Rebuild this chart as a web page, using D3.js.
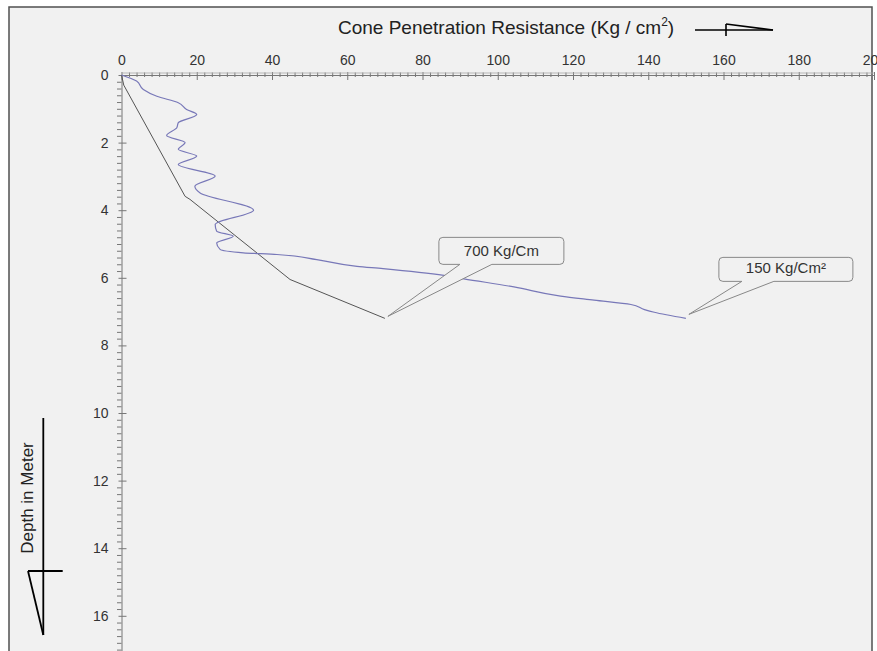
<!DOCTYPE html>
<html>
<head>
<meta charset="utf-8">
<script src="https://cdn.jsdelivr.net/npm/d3@7"></script>
<style>
  html, body { margin: 0; padding: 0; background: #ffffff; }
  svg { display: block; font-family: "Liberation Sans", Arial, sans-serif; }
</style>
</head>
<body>
<svg id="chart" width="877" height="651"></svg>
<script>
// ---------- data ----------
const xTickValues = [0, 20, 40, 60, 80, 100, 120, 140, 160, 180, 200];
const yTickValues = [0, 2, 4, 6, 8, 10, 12, 14, 16];

// measured cone resistance curve (blue)
const coneResistance = [0, 4.0, 5.8, 9.4, 15.1, 17.3, 20.0, 15.1, 14.7, 12.0, 16.9, 15.1, 20.0, 15.1, 24.9, 19.5, 20.9, 35.1, 24.9, 25.3, 29.7, 25.3, 26.2, 32.4, 41.3, 51.9, 62.6, 69.5, 85.7, 91.0, 104.3, 116.7, 125.6, 135.4, 139.0, 141.6, 150];
const coneDepth      = [0, 0.18, 0.43, 0.63, 0.82, 1.02, 1.17, 1.41, 1.56, 1.79, 2.0, 2.2, 2.4, 2.65, 2.99, 3.29, 3.49, 4.0, 4.42, 4.62, 4.77, 4.97, 5.16, 5.26, 5.31, 5.46, 5.66, 5.73, 5.93, 6.03, 6.27, 6.54, 6.66, 6.79, 6.94, 7.02, 7.2];

// second curve (dark grey)
const frictionValue = [0, 0.6, 16.9, 18.2, 44.8, 70];
const frictionDepth = [0, 0.3, 3.59, 3.68, 6.05, 7.2];

const calloutLabels = ["700 Kg/Cm", "150 Kg/Cm\u00B2"];
const calloutValues = [70, 150];
const calloutDepths = [7.2, 7.2];

// ---------- drawing ----------
const svg = d3.select("#chart");
const BG = "#f1f1f1";

svg.append("rect").attr("x", 9).attr("y", 7).attr("width", 863).attr("height", 700)
  .attr("fill", BG).attr("stroke", "#505050").attr("stroke-width", 1.5);

const x = d3.scaleLinear().domain([0, 200]).range([121.5, 874]);
const y = d3.scaleLinear().domain([0, 17.5]).range([75, 75 + 17.5 * 33.8]);

// Top axis (minor)
const xMinor = d3.range(0, 201, 2).filter(v => !xTickValues.includes(v));
const gxMinor = svg.append("g").attr("transform", `translate(0,${y(0)})`)
  .call(d3.axisTop(x).tickValues(xMinor).tickSize(0).tickFormat(""));
gxMinor.select(".domain").remove();
gxMinor.selectAll(".tick line").attr("y1", -2.5).attr("y2", 2).attr("stroke", "#777");

const gx = svg.append("g").attr("transform", `translate(0,${y(0)})`)
  .call(d3.axisTop(x).tickValues(xTickValues).tickSize(0).tickPadding(10).tickFormat(d3.format("d")));
gx.select(".domain").attr("stroke", "#777");
gx.selectAll(".tick line").attr("y1", -3).attr("y2", 5).attr("stroke", "#777");
gx.selectAll(".tick text").attr("font-size", 14).attr("fill", "#333")
  .attr("font-family", "Liberation Sans, Arial, sans-serif");
svg.append("line").attr("x1", x(0)).attr("x2", x(200)).attr("y1", y(0) - 2).attr("y2", y(0) - 2)
  .attr("stroke", "#aaa").attr("stroke-width", 0.8);

// Left axis (minor)
const yMinor = d3.range(0, 17.5, 0.2).map(v => +v.toFixed(1)).filter(v => !yTickValues.includes(v));
const gyMinor = svg.append("g").attr("transform", `translate(${x(0)},0)`)
  .call(d3.axisLeft(y).tickValues(yMinor).tickSize(0).tickFormat(""));
gyMinor.select(".domain").remove();
gyMinor.selectAll(".tick line").attr("x1", -4.5).attr("x2", 0).attr("stroke", "#777");

const gy = svg.append("g").attr("transform", `translate(${x(0)},0)`)
  .call(d3.axisLeft(y).tickValues(yTickValues).tickSize(0).tickPadding(13).tickFormat(d3.format("d")));
gy.select(".domain").attr("stroke", "#777");
gy.selectAll(".tick line").attr("x1", -3).attr("x2", 5).attr("stroke", "#777");
gy.selectAll(".tick text").attr("font-size", 14).attr("fill", "#333")
  .attr("font-family", "Liberation Sans, Arial, sans-serif");

// Curves
const frictionPts = frictionValue.map((v, i) => [v, frictionDepth[i]]);
svg.append("path").datum(frictionPts)
  .attr("d", d3.line().x(d => x(d[0])).y(d => y(d[1])))
  .attr("fill", "none").attr("stroke", "#555").attr("stroke-width", 1);

const conePts = coneResistance.map((v, i) => [v, coneDepth[i]]);
svg.append("path").datum(conePts)
  .attr("d", d3.line().x(d => x(d[0])).y(d => y(d[1])).curve(d3.curveMonotoneY))
  .attr("fill", "none").attr("stroke", "#7878b8").attr("stroke-width", 1.2);

// Callouts
const calloutLayout = [
  { dx: 3, dy: -2, bx0: 51, bx1: 176, by0: -79, by1: -52, t0: 72, t1: 104 },
  { dx: 3, dy: -4, bx0: 30, bx1: 164, by0: -57, by1: -33, t0: 53, t1: 85 }
];
calloutLabels.forEach((lab, i) => {
  const L = calloutLayout[i];
  const tx = x(calloutValues[i]) + L.dx, ty = y(calloutDepths[i]) + L.dy;
  const x0 = tx + L.bx0, x1 = tx + L.bx1, y0 = ty + L.by0, y1 = ty + L.by1, r = 4;
  const p = d3.path();
  p.moveTo(x0 + r, y0);
  p.lineTo(x1 - r, y0);
  p.arcTo(x1, y0, x1, y0 + r, r);
  p.lineTo(x1, y1 - r);
  p.arcTo(x1, y1, x1 - r, y1, r);
  p.lineTo(tx + L.t1, y1);
  p.lineTo(tx, ty);
  p.lineTo(tx + L.t0, y1);
  p.lineTo(x0 + r, y1);
  p.arcTo(x0, y1, x0, y1 - r, r);
  p.lineTo(x0, y0 + r);
  p.arcTo(x0, y0, x0 + r, y0, r);
  p.closePath();
  svg.append("path").attr("d", p.toString()).attr("fill", BG)
    .attr("stroke", "#888").attr("stroke-width", 1);
  svg.append("text").attr("x", (x0 + x1) / 2).attr("y", y1 - 8.5)
    .attr("text-anchor", "middle").attr("font-size", 15).attr("fill", "#333").text(lab);
});

// Title
const title = svg.append("text").attr("x", 338).attr("y", 34).attr("font-size", 19).attr("fill", "#222");
title.append("tspan").text("Cone Penetration Resistance (Kg / cm");
title.append("tspan").attr("font-size", 12).attr("dy", -8).text("2");
title.append("tspan").attr("dy", 8).text(")");

// Title arrow
const arrowG = svg.append("g").attr("stroke", "#000").attr("stroke-width", 1.6).attr("fill", "none");
arrowG.append("line").attr("x1", 695).attr("x2", 773).attr("y1", 30).attr("y2", 30);
arrowG.append("line").attr("x1", 726).attr("x2", 726).attr("y1", 24).attr("y2", 36);
arrowG.append("line").attr("x1", 726).attr("x2", 773).attr("y1", 24).attr("y2", 30);

// Y label
svg.append("text").attr("transform", "translate(32.5,498) rotate(-90)")
  .attr("text-anchor", "middle").attr("font-size", 17).attr("fill", "#222").text("Depth in Meter");

// Y arrow
const arrowY = svg.append("g").attr("stroke", "#000").attr("stroke-width", 1.8).attr("fill", "none");
arrowY.append("line").attr("x1", 43.3).attr("x2", 43.3).attr("y1", 418).attr("y2", 635);
arrowY.append("line").attr("x1", 28).attr("x2", 62.7).attr("y1", 571).attr("y2", 571);
arrowY.append("line").attr("x1", 28).attr("x2", 43.3).attr("y1", 571).attr("y2", 635);
</script>
</body>
</html>
